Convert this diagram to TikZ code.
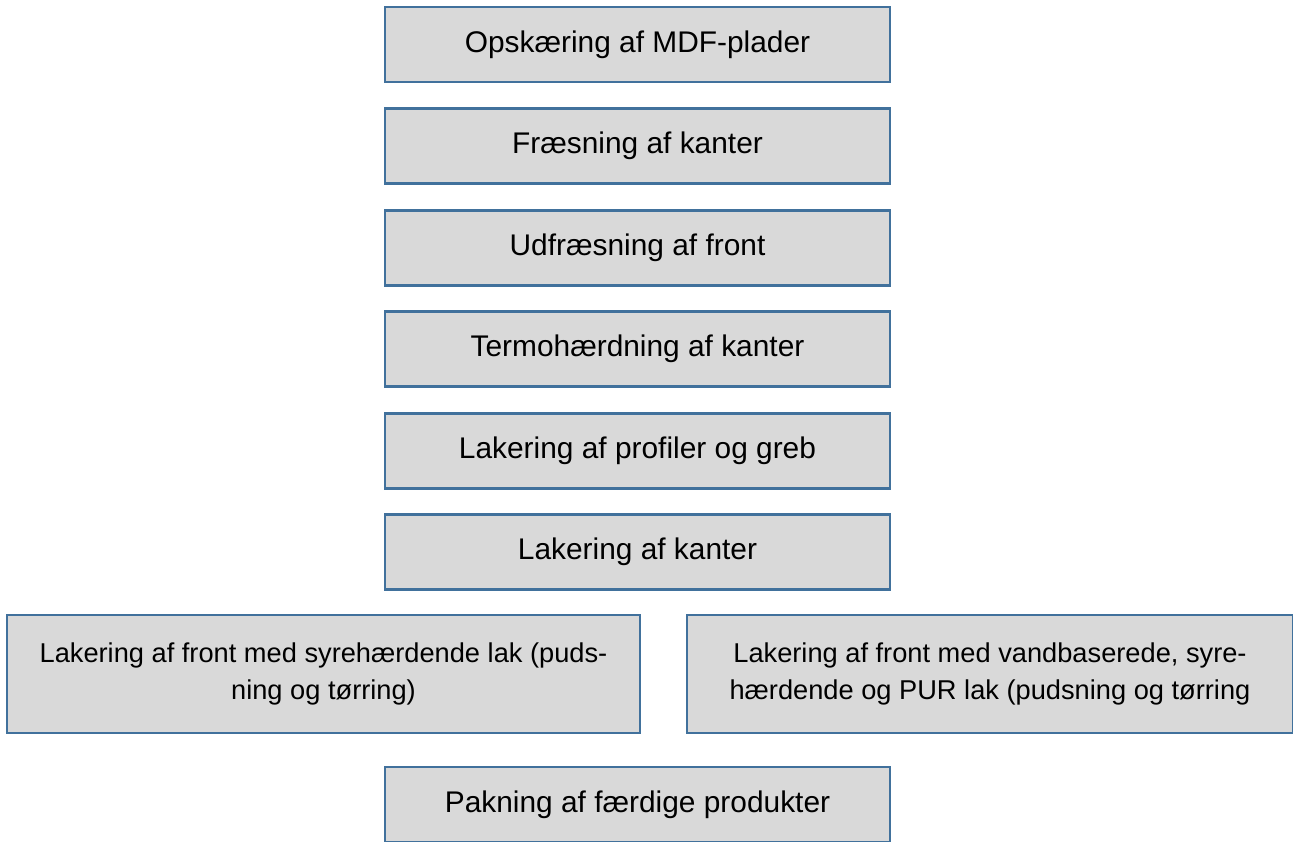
\documentclass[tikz,border=0pt]{standalone}
\usepackage{fontspec}
\setmainfont{Liberation Sans}
\definecolor{kant}{RGB}{65,113,156}
\definecolor{fyld}{RGB}{217,217,217}
\begin{document}
\begin{tikzpicture}
  \tikzstyle{boite}=[rectangle, draw=kant, fill=fyld, line width=1.2pt,
  text centered, text=black, minimum width=10.1cm, minimum height=1.5cm,
  font=\fontsize{17}{21}\selectfont, inner sep=0pt]
  \tikzstyle{largeboite}=[boite, minimum height=2.36cm, align=center,
  font=\fontsize{15.5}{21}\selectfont]
  \useasboundingbox (0,0) rectangle (25.86,-16.82);
  \clip (0,0) rectangle (25.86,-16.82);
  \foreach \n/\y/\t in {opsk/-0.89/{Opskæring af MDF-plader},
    fraes/-2.92/{Fræsning af kanter},
    udfr/-4.96/{Udfræsning af front},
    termo/-6.98/{Termohærdning af kanter},
    profil/-9.02/{Lakering af profiler og greb},
    kanter/-11.04/{Lakering af kanter}} {
    \node[boite] (\n) at (12.75,\y) {\t};
  }
  \node[largeboite, minimum width=12.66cm] (syre) at (6.47,-13.48)
    {Lakering af front med syrehærdende lak (puds-\\ning og tørring)};
  \node[largeboite, minimum width=12.12cm] (vand) at (19.8,-13.48)
    {Lakering af front med vandbaserede, syre-\\hærdende og PUR lak (pudsning og tørring};
  \node[boite] (pak) at (12.75,-16.09) {Pakning af færdige produkter};
\end{tikzpicture}
\end{document}
